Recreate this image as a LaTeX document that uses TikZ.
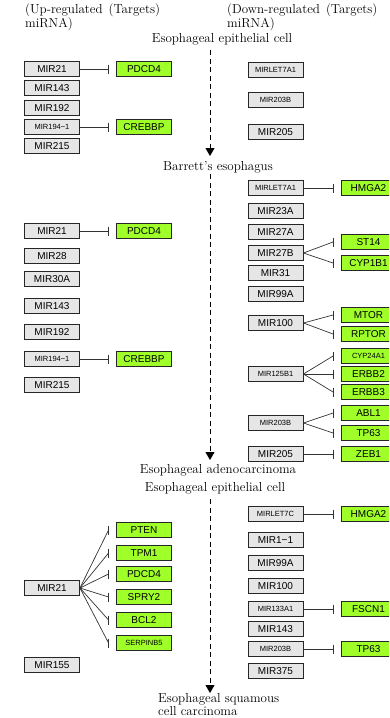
\documentclass[tikz,border=0pt]{standalone}
\usepackage{fontspec}
\setsansfont{Liberation Sans}
\usetikzlibrary{arrows.meta,calc}

\definecolor{mirgrey}{RGB}{230,230,230}
\definecolor{genegreen}{RGB}{160,255,40}

\tikzset{
  mir/.style={draw=black!85, fill=mirgrey, line width=0.9pt,
    minimum width=55pt, minimum height=14.5pt, inner sep=0pt,
    font=\sffamily\fontsize{10}{10}\selectfont},
  gene/.style={mir, fill=genegreen},
  tiny/.style={font=\sffamily\fontsize{7.5}{7.5}\selectfont},
  stage/.style={inner sep=0pt, font=\fontsize{13}{13}\selectfont},
  head/.style={inner sep=0pt, anchor=base west, align=left,
    font=\fontsize{13}{8.5}\selectfont},
  flow/.style={dash pattern=on 5pt off 3.5pt, line width=0.9pt,
    -{Triangle[width=9pt,length=8pt]}},
  inh/.style={line width=0.7pt, draw=black!80},
}

% inhibition: line from a miRNA to a bar in front of its target
\newcommand{\inhibit}[2]{%
  \draw[inh] (#1.east) -- ($(#2.west)+(-7.5,0)$) coordinate (bar);
  \draw[inh] ($(bar)+(0,-4.5)$) -- ($(bar)+(0,4.5)$);}

\begin{document}
\begin{tikzpicture}[x=1pt,y=-1pt]
    \clip (0,0) rectangle (389,718);

    % Column headings
    \node[head] (uphead) at (25,27.5) {(Up-regulated\hspace{6pt}(Targets)\\miRNA)};
    \node[head] (downhead) at (227,27.5) {(Down-regulated\hspace{6pt}(Targets)\\miRNA)};

    % Stages along the axis
    \node[stage] (epi1) at (222,39) {Esophageal epithelial cell};
    \node[stage] (barrett) at (218,167) {Barrett's esophagus};
    \node[stage] (adeno) at (218,470) {Esophageal adenocarcinoma};
    \node[stage] (epi2) at (215,488) {Esophageal epithelial cell};
    \node[stage, anchor=base west, align=left, font=\fontsize{13}{9.5}\selectfont]
      (squam) at (158,715) {Esophageal squamous\\cell carcinoma};

    % Axis
    \coordinate (s1) at (210,50);
    \coordinate (e1) at (210,156);
    \coordinate (s2) at (210,174);
    \coordinate (e2) at (210,460);
    \coordinate (s3) at (210,499);
    \coordinate (e3) at (210,693);
    \draw[flow] (s1) -- (e1);
    \draw[flow] (s2) -- (e2);
    \draw[flow] (s3) -- (e3);

    % Epithelial cell -> Barrett's esophagus
    \node[mir] (a21) at (52,69) {MIR21};
    \node[mir] (a143) at (52,88) {MIR143};
    \node[mir] (a192) at (52,108) {MIR192};
    \node[mir, tiny] (a194) at (52,127) {MIR194−1};
    \node[mir] (a215) at (52,146) {MIR215};
    \node[gene] (apdcd) at (144,69) {PDCD4};
    \node[gene] (acreb) at (144,127) {CREBBP};
    \node[mir, tiny] (alet) at (275.5,70) {MIRLET7A1};
    \node[mir, tiny] (a203) at (275.5,100) {MIR203B};
    \node[mir] (a205) at (275.5,132) {MIR205};

    \inhibit{a21}{apdcd}
    \inhibit{a194}{acreb}

    % Barrett's esophagus -> adenocarcinoma
    \node[mir] (b21) at (52,231) {MIR21};
    \node[mir] (b28) at (52,256) {MIR28};
    \node[mir] (b30) at (52,279) {MIR30A};
    \node[mir] (b143) at (52,306) {MIR143};
    \node[mir] (b192) at (52,332) {MIR192};
    \node[mir, tiny] (b194) at (52,359) {MIR194−1};
    \node[mir] (b215) at (52,385) {MIR215};
    \node[gene] (bpdcd) at (144,231) {PDCD4};
    \node[gene] (bcreb) at (144,359) {CREBBP};

    \node[mir, tiny] (blet) at (275.5,188) {MIRLET7A1};
    \node[mir] (b23) at (275.5,211) {MIR23A};
    \node[mir] (b27a) at (275.5,232) {MIR27A};
    \node[mir] (b27b) at (275.5,253) {MIR27B};
    \node[mir] (b31) at (275.5,273) {MIR31};
    \node[mir] (b99) at (275.5,294) {MIR99A};
    \node[mir] (b100) at (275.5,323) {MIR100};
    \node[mir, tiny] (b125) at (275.5,374) {MIR125B1};
    \node[mir, tiny] (b203) at (275.5,423) {MIR203B};
    \node[mir] (b205) at (275.5,454) {MIR205};

    \node[gene] (bhmga) at (368.5,188) {HMGA2};
    \node[gene] (bst) at (368.5,242) {ST14};
    \node[gene] (bcyp1) at (368.5,263) {CYP1B1};
    \node[gene] (bmtor) at (368.5,315) {MTOR};
    \node[gene] (brptor) at (368.5,334) {RPTOR};
    \node[gene, tiny] (bcyp24) at (368.5,356) {CYP24A1};
    \node[gene] (berbb2) at (368.5,374) {ERBB2};
    \node[gene] (berbb3) at (368.5,392) {ERBB3};
    \node[gene] (babl) at (368.5,413) {ABL1};
    \node[gene] (btp) at (368.5,433) {TP63};
    \node[gene] (bzeb) at (368.5,454) {ZEB1};

    \inhibit{b21}{bpdcd}
    \inhibit{b194}{bcreb}
    \inhibit{blet}{bhmga}
    \foreach \t in {bst, bcyp1} {\inhibit{b27b}{\t}}
    \foreach \t in {bmtor, brptor} {\inhibit{b100}{\t}}
    \foreach \t in {bcyp24, berbb2, berbb3} {\inhibit{b125}{\t}}
    \foreach \t in {babl, btp} {\inhibit{b203}{\t}}
    \inhibit{b205}{bzeb}

    % Epithelial cell -> squamous cell carcinoma
    \node[mir] (c21) at (52,588) {MIR21};
    \node[mir] (c155) at (52,665) {MIR155};
    \node[gene] (cpten) at (144,530) {PTEN};
    \node[gene] (ctpm) at (144,553) {TPM1};
    \node[gene] (cpdcd) at (144,574) {PDCD4};
    \node[gene] (cspry) at (144,597) {SPRY2};
    \node[gene] (cbcl) at (144,620) {BCL2};
    \node[gene, tiny] (cserp) at (144,643) {SERPINB5};

    \node[mir, tiny] (clet) at (275.5,514) {MIRLET7C};
    \node[mir] (c1) at (275.5,540) {MIR1−1};
    \node[mir] (c99) at (275.5,563) {MIR99A};
    \node[mir] (c100) at (275.5,586) {MIR100};
    \node[mir, tiny] (c133) at (275.5,609) {MIR133A1};
    \node[mir] (c143) at (275.5,629) {MIR143};
    \node[mir, tiny] (c203) at (275.5,649) {MIR203B};
    \node[mir] (c375) at (275.5,671) {MIR375};
    \node[gene] (chmga) at (368.5,514) {HMGA2};
    \node[gene] (cfscn) at (368.5,609) {FSCN1};
    \node[gene] (ctp) at (368.5,649) {TP63};

    \foreach \t in {cpten, ctpm, cpdcd, cspry, cbcl, cserp} {\inhibit{c21}{\t}}
    \inhibit{clet}{chmga}
    \inhibit{c133}{cfscn}
    \inhibit{c203}{ctp}
\end{tikzpicture}
\end{document}
